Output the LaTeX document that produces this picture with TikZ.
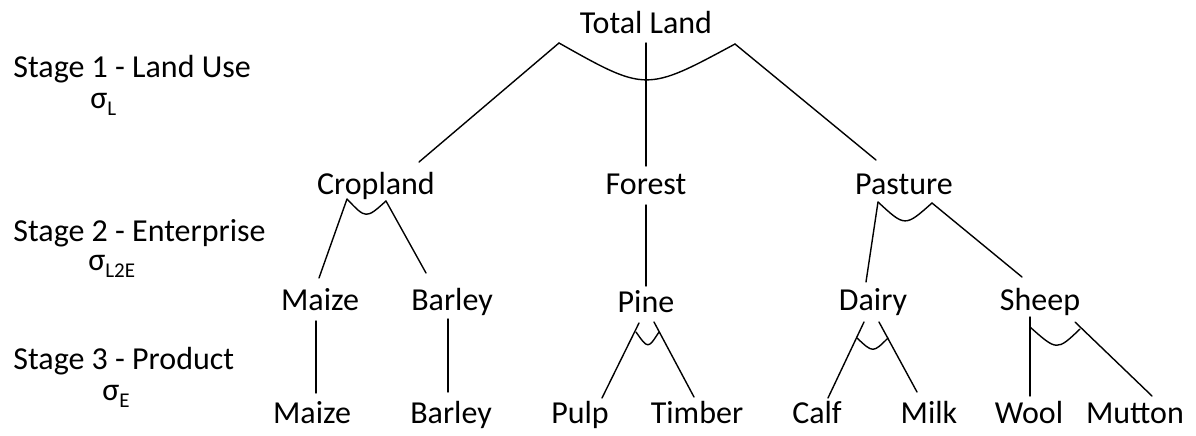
\documentclass[tikz,border=0pt]{standalone}
\usepackage{fontspec}
\setmainfont{Carlito}
\begin{document}
\begin{tikzpicture}[x=0.5pt,y=-0.5pt,
  lbl/.style={inner sep=0pt,anchor=base,font=\fontsize{16}{19}\selectfont},
  stg/.style={inner sep=0pt,anchor=base west,font=\fontsize{16}{19}\selectfont},
  sig/.style={inner sep=0pt,anchor=base west,font=\fontsize{16}{19}\selectfont,text height=7pt},
  conn/.style={line width=0.7pt,black,line cap=round,line join=round}]
\newcommand{\sub}[1]{\raisebox{-3.5pt}{\fontsize{10.5}{12}\selectfont #1}}
\useasboundingbox (0,0) rectangle (1196,435);
% stage labels
\node[stg] (s1) at (13,77) {Stage 1 - Land Use};
\node[sig] (s1s) at (90,108) {σ\sub{L}};
\node[stg] (s2) at (13,241) {Stage 2 - Enterprise};
\node[sig] (s2s) at (88,270) {σ\sub{L2E}};
\node[stg] (s3) at (13,369) {Stage 3 - Product};
\node[sig] (s3s) at (102,400) {σ\sub{E}};
% tree nodes
\node[lbl] (total) at (646,33) {Total Land};
\node[lbl] (crop) at (376,194) {Cropland};
\node[lbl] (forest) at (646,194) {Forest};
\node[lbl] (past) at (904,194) {Pasture};
\node[lbl] (maize) at (320,310) {Maize};
\node[lbl] (barley) at (452,310) {Barley};
\node[lbl] (pine) at (646,312) {Pine};
\node[lbl] (dairy) at (873,310) {Dairy};
\node[lbl] (sheep) at (1040,310) {Sheep};
\node[lbl] (maizep) at (312,423) {Maize};
\node[lbl] (barleyp) at (451,423) {Barley};
\node[lbl] (pulp) at (580,423) {Pulp};
\node[lbl] (timber) at (697,423) {Timber};
\node[lbl] (calf) at (817,423) {Calf};
\node[lbl] (milk) at (929,423) {Milk};
\node[lbl] (wool) at (1029,423) {Wool};
\node[lbl] (mutton) at (1135,423) {Mutton};
% connector end points
\coordinate (total-l) at (559,43);
\coordinate (total-r) at (735,44);
\coordinate (total-c) at (646,43);
\coordinate (crop-in) at (419,162);
\coordinate (forest-in) at (646,166);
\coordinate (past-in) at (876,160);
\coordinate (crop-l) at (347,199);
\coordinate (crop-r) at (386,201);
\coordinate (maize-in) at (319,278);
\coordinate (barley-in) at (426,273);
\coordinate (forest-out) at (646,205);
\coordinate (pine-in) at (646,286);
\coordinate (past-l) at (878,202);
\coordinate (past-r) at (932,203);
\coordinate (dairy-in) at (866,282);
\coordinate (sheep-in) at (1022,277);
\coordinate (maize-out) at (316,321);
\coordinate (maizep-in) at (316,393);
\coordinate (barley-out) at (448,319);
\coordinate (barleyp-in) at (448,392);
\coordinate (pine-l) at (639,323);
\coordinate (pine-r) at (654,322);
\coordinate (pulp-in) at (602,398);
\coordinate (timber-in) at (694,397);
\coordinate (dairy-l) at (864,322);
\coordinate (dairy-r) at (879,322);
\coordinate (calf-in) at (828,398);
\coordinate (milk-in) at (917,392);
\coordinate (sheep-l) at (1030,317);
\coordinate (sheep-r) at (1075,322);
\coordinate (wool-in) at (1030,396);
\coordinate (mutton-in) at (1152,396);
% stage 1
\draw[conn] (total-l) -- (crop-in);
\draw[conn] (total-r) -- (past-in);
\draw[conn] (total-c) -- (forest-in);
\draw[conn] (total-l) .. controls (646,92) .. (total-r);
% stage 2
\draw[conn] (crop-l) -- (maize-in);
\draw[conn] (crop-r) -- (barley-in);
\draw[conn] (crop-l) .. controls (366,219) .. (crop-r);
\draw[conn] (forest-out) -- (pine-in);
\draw[conn] (past-l) -- (dairy-in);
\draw[conn] (past-r) -- (sheep-in);
\draw[conn] (past-l) .. controls (905,227) .. (past-r);
% stage 3
\draw[conn] (maize-out) -- (maizep-in);
\draw[conn] (barley-out) -- (barleyp-in);
\draw[conn] (pine-l) -- (pulp-in);
\draw[conn] (pine-r) -- (timber-in);
\draw[conn] (636,332) .. controls (648,349) .. (659,332);
\draw[conn] (dairy-l) -- (calf-in);
\draw[conn] (dairy-r) -- (milk-in);
\draw[conn] (857,338) .. controls (873,353) .. (888,338);
\draw[conn] (sheep-l) -- (wool-in);
\draw[conn] (sheep-r) -- (mutton-in);
\draw[conn] (1030,327) .. controls (1057,351) .. (1080,329);
\end{tikzpicture}
\end{document}
